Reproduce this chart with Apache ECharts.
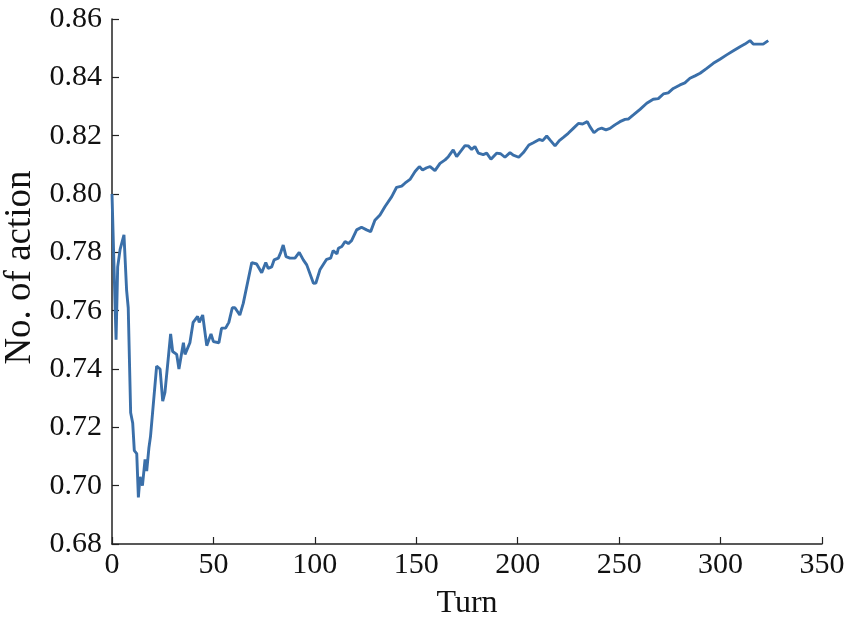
<!DOCTYPE html>
<html>
<head>
<meta charset="utf-8">
<script src="https://cdn.jsdelivr.net/npm/echarts@6/dist/echarts.min.js"></script>
<style>
html,body{margin:0;padding:0;background:#fff;}
#chart{width:849px;height:624px;}
</style>
</head>
<body>
<div id="chart"></div>
<script>
const turns = [0,1,2,2.8,4,5.9,7.2,8,9.2,10.2,11,12.2,13,13.8,15,16.3,17.1,18.2,19,22,23.7,25,26.1,28.9,29.9,31.9,33,35.2,36,38.4,40,42.2,43,44.7,46.7,48.8,50,52.7,54,56,57.6,59.3,60.6,63,64.7,68.9,71.3,73.8,75.8,77,78.7,79.9,82,83.2,84.4,85.8,87.7,90.2,92.3,94.3,96,99.3,100.5,102.5,105.8,107.8,109,110.9,111.6,113.3,114.9,116.5,118.1,120.6,123,125.5,127.5,129.6,132.1,134.6,137.9,140.3,142.8,144.4,146.9,149.4,151.5,153.1,155.1,156.8,159.2,161.7,164.2,165.8,168.2,169.9,172.4,174,175.6,177.3,178.9,180.6,183,184.7,186.8,189.6,191.6,193.7,196.2,197.8,200.5,202.8,205.5,207.7,210.6,212.3,214.3,216.2,218.4,220.5,222.5,224.9,227.4,229.9,232,234.3,235.6,237.6,239.7,241.4,243.5,245.5,247.9,250.4,252.9,254.5,257,260.3,263.6,266.8,269.3,271.8,274.2,276.7,280,282.4,284.9,287.4,289.9,293.2,296.4,299.7,303,306.3,309.6,312,314.5,316.1,318.6,321,323.5];
const values = [0.800,0.775,0.750,0.775,0.781,0.786,0.767,0.761,0.725,0.7215,0.712,0.711,0.696,0.703,0.700,0.709,0.705,0.713,0.717,0.741,0.740,0.729,0.732,0.752,0.746,0.745,0.740,0.749,0.745,0.749,0.756,0.758,0.756,0.7585,0.748,0.752,0.7494,0.749,0.754,0.754,0.756,0.761,0.761,0.7585,0.7625,0.7765,0.776,0.773,0.7765,0.7745,0.775,0.7774,0.778,0.780,0.7825,0.7785,0.778,0.778,0.780,0.7774,0.7757,0.7694,0.7695,0.774,0.7776,0.778,0.7806,0.7795,0.7814,0.782,0.7837,0.783,0.784,0.7877,0.7886,0.7877,0.7871,0.791,0.7928,0.7957,0.7991,0.8023,0.8027,0.8037,0.805,0.8077,0.8094,0.8082,0.809,0.8094,0.808,0.8105,0.8117,0.8128,0.8151,0.8128,0.8151,0.8166,0.8165,0.8153,0.8163,0.814,0.8135,0.814,0.8119,0.814,0.8138,0.8126,0.8142,0.8133,0.8126,0.8142,0.8168,0.8176,0.8187,0.8183,0.8199,0.8183,0.8165,0.8183,0.8194,0.8208,0.8225,0.8242,0.824,0.8248,0.8231,0.821,0.8222,0.8226,0.822,0.8225,0.8237,0.8248,0.8256,0.8257,0.8271,0.829,0.8311,0.8325,0.8327,0.8343,0.8347,0.8362,0.8374,0.8381,0.8397,0.8405,0.8414,0.8431,0.8448,0.8462,0.8477,0.8491,0.8505,0.8514,0.8526,0.8514,0.8514,0.8514,0.8526];
const xAxisName = 'Turn';
const yAxisName = 'No. of action';

const data = turns.map((t, i) => [t, values[i]]);
const font = '"Liberation Serif", "Times New Roman", serif';
const chart = echarts.init(document.getElementById('chart'), null, {renderer: 'canvas'});
chart.setOption({
  animation: false,
  backgroundColor: '#fff',
  grid: {left: 112, right: 27, top: 19, bottom: 80, containLabel: false, outerBoundsMode: 'none'},
  xAxis: {
    type: 'value', min: 0, max: 350, interval: 50,
    name: xAxisName, nameLocation: 'middle', nameGap: 44,
    nameTextStyle: {fontFamily: font, fontSize: 32, color: '#111'},
    axisLine: {show: true, onZero: false, lineStyle: {color: '#222', width: 1.5}},
    axisTick: {show: true, inside: true, length: 7, lineStyle: {color: '#222', width: 1.2}},
    axisLabel: {fontFamily: font, fontSize: 30, color: '#111', margin: 6},
    splitLine: {show: false}
  },
  yAxis: {
    type: 'value', min: 0.68, max: 0.86, interval: 0.02,
    name: yAxisName, nameLocation: 'middle', nameGap: 70, nameRotate: 90,
    nameTextStyle: {fontFamily: font, fontSize: 37, color: '#111', padding: [0, 0, 0, 28]},
    axisLine: {show: true, onZero: false, lineStyle: {color: '#222', width: 1.5}},
    axisTick: {show: true, inside: true, length: 7, lineStyle: {color: '#222', width: 1.2}},
    axisLabel: {fontFamily: font, fontSize: 30, color: '#111', margin: 10,
      formatter: v => v.toFixed(2)},
    splitLine: {show: false}
  },
  series: [{
    type: 'line', data: data, showSymbol: false, symbol: 'none',
    lineStyle: {color: '#3a6fa9', width: 2.9},
    itemStyle: {color: '#3a6fa9'}
  }]
});
</script>
</body>
</html>
